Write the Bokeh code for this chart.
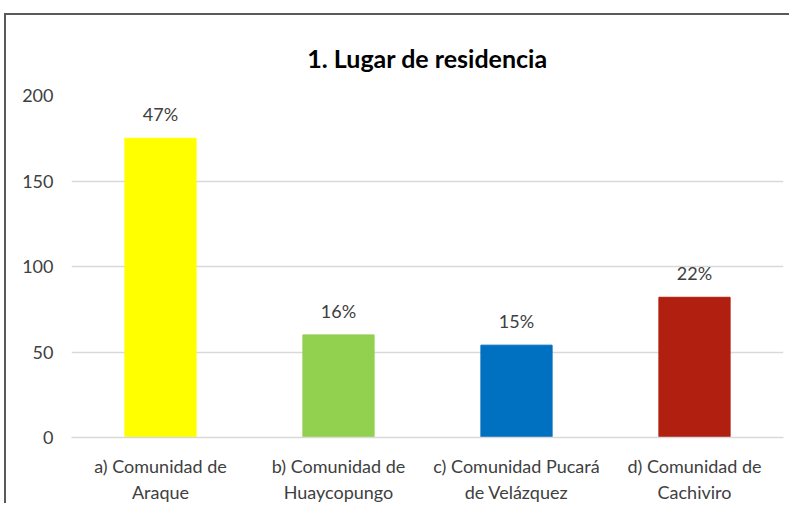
from bokeh.plotting import figure
from bokeh.models import ColumnDataSource, LabelSet, FactorRange
from bokeh.core.properties import value
from bokeh.embed import file_html
from bokeh.resources import INLINE

categories = ["a) Comunidad de\nAraque", "b) Comunidad de\nHuaycopungo",
              "c) Comunidad Pucará\nde Velázquez", "d) Comunidad de\nCachiviro"]
counts = [175, 60, 54, 82]
percent_labels = ["47%", "16%", "15%", "22%"]
bar_colors = ["#FFFF00", "#92D050", "#0070C0", "#B01F0F"]

FONT = "Lato"
src = ColumnDataSource(dict(cat=categories, val=counts, pct=percent_labels, color=bar_colors))

p = figure(x_range=FactorRange(*categories), y_range=(0, 200), width=785, height=490,
           output_backend="svg", toolbar_location=None,
           min_border_left=65, min_border_right=8, min_border_top=80, min_border_bottom=63)
p.margin = (13, 0, 0, 4)
p.styles = {"border-top": "2px solid #595959", "border-left": "2px solid #595959"}

p.vbar(x="cat", top="val", width=0.4, color="color", source=src)

p.add_layout(LabelSet(x="cat", y="val", text="pct", source=src, text_align="center",
                      text_baseline="bottom", y_offset=13, text_font=value(FONT),
                      text_font_size="18px", text_color="#404040"))

p.title.text = "1. Lugar de residencia"
p.title.align = "center"
p.title.text_font = FONT
p.title.text_font_size = "25px"
p.title.text_font_style = "bold"
p.title.text_color = "#000000"
p.title.standoff = 45

p.outline_line_color = None
p.xgrid.grid_line_color = None
p.ygrid.grid_line_color = "#D9D9D9"
p.ygrid.grid_line_width = 1.5
p.yaxis.ticker = [0, 50, 100, 150, 200]

p.yaxis.axis_line_color = None
p.yaxis.major_tick_line_color = None
p.yaxis.minor_tick_line_color = None
p.yaxis.major_label_standoff = 12
p.yaxis.major_label_text_font = FONT
p.yaxis.major_label_text_font_size = "18px"
p.yaxis.major_label_text_color = "#404040"

p.xaxis.axis_line_color = "#D9D9D9"
p.xaxis.axis_line_width = 1.5
p.xaxis.major_tick_line_color = None
p.xaxis.major_label_standoff = 11
p.xaxis.major_label_text_font = FONT
p.xaxis.major_label_text_font_size = "18px"
p.xaxis.major_label_text_color = "#404040"
p.xaxis.major_label_text_line_height = 1.2

open("out.html", "w").write(file_html(p, INLINE))
